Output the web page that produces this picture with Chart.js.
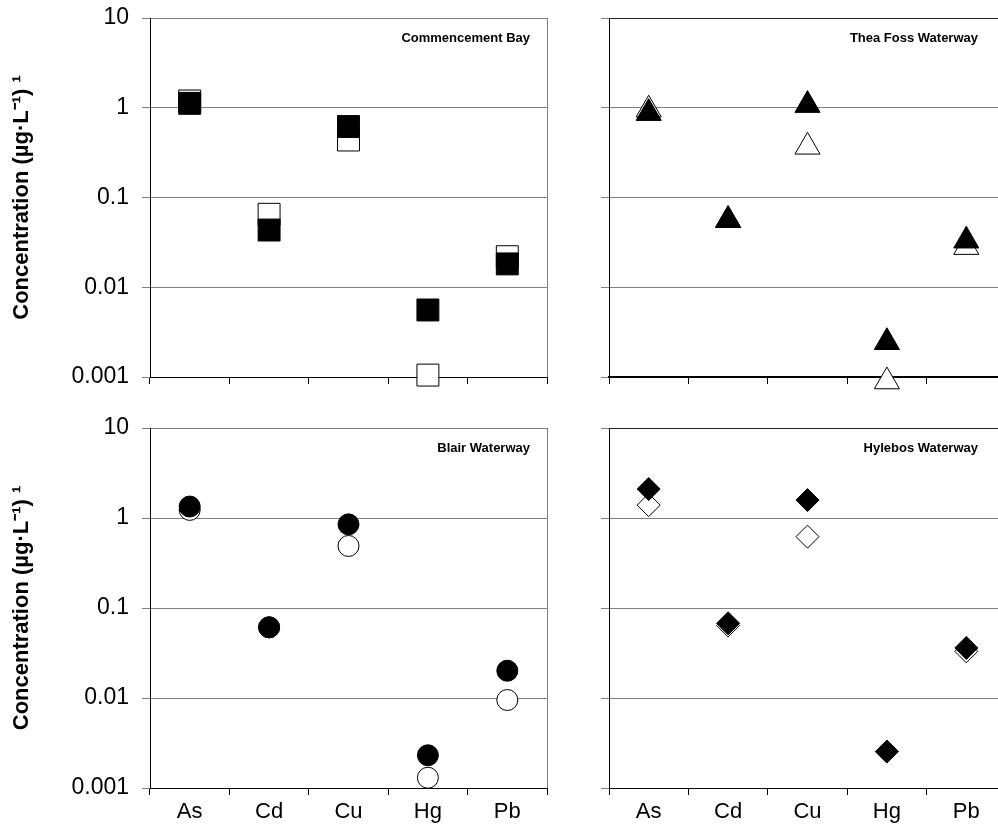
<!DOCTYPE html>
<html>
<head>
<meta charset="utf-8">
<script src="https://cdn.jsdelivr.net/npm/chart.js@4/dist/chart.umd.min.js"></script>
<style>
    html, body { margin: 0; padding: 0; background: #fff; overflow: hidden; width: 998px; height: 839px; }
    canvas { position: absolute; }
</style>
</head>
<body>
<canvas id="commencement" width="560" height="400" style="left:0;top:0"></canvas>
<canvas id="theaFoss" width="460" height="400" style="left:560px;top:0"></canvas>
<canvas id="blair" width="560" height="439" style="left:0;top:400px"></canvas>
<canvas id="hylebos" width="460" height="439" style="left:560px;top:400px"></canvas>
<script>
// Categories and axis ticks
const metals = ["As", "Cd", "Cu", "Hg", "Pb"];
const yTicks = [0.001, 0.01, 0.1, 1, 10];

// Concentrations (open / filled markers)
const commencementOpen = [1.19, 0.065, 0.437, 0.00105, 0.0219];
const commencementFilled = [1.12, 0.0434, 0.618, 0.00558, 0.0182];
const theaFossOpen = [0.95, 0.056, 0.367, 0.00089, 0.028];
const theaFossFilled = [0.87, 0.0558, 1.07, 0.00244, 0.033];
const blairOpen = [1.23, 0.061, 0.489, 0.0013, 0.0095];
const blairFilled = [1.34, 0.061, 0.85, 0.00231, 0.0201];
const hylebosOpen = [1.39, 0.064, 0.62, 0.00254, 0.033];
const hylebosFilled = [2.1, 0.0676, 1.58, 0.00254, 0.036];

const yTitle = "Concentration (µg·L⁻¹) ¹";
const fontFamily = "'Liberation Sans', Arial, sans-serif";

// Panel name in the top right corner, plus borders
const panelDecor = {
    id: "panelDecor",
    afterDraw(chart, args, opts) {
        const { ctx, chartArea } = chart;
        ctx.save();
        ctx.lineWidth = 1;
        if (opts.rightBorder) {
            ctx.strokeStyle = "#808080";
            ctx.beginPath();
            ctx.moveTo(chartArea.right + 0.5, chartArea.top);
            ctx.lineTo(chartArea.right + 0.5, chartArea.bottom);
            ctx.stroke();
        } else {
            // top border and its tick on the right panels
            ctx.strokeStyle = "#808080";
            ctx.beginPath();
            ctx.moveTo(chartArea.left - 8, chartArea.top + 0.5);
            ctx.lineTo(chartArea.left, chartArea.top + 0.5);
            ctx.stroke();
            ctx.strokeStyle = "#222";
            ctx.beginPath();
            ctx.moveTo(chartArea.left, chartArea.top + 0.5);
            ctx.lineTo(chartArea.right, chartArea.top + 0.5);
            ctx.stroke();
        }
        ctx.fillStyle = "#000";
        ctx.font = "bold 13px " + fontFamily;
        ctx.textAlign = "right";
        ctx.textBaseline = "middle";
        ctx.fillText(opts.text, opts.textRight, chartArea.top + 20);
        ctx.restore();
    }
};

// Function to build one panel
function makePanel(id, name, open, filled, shape, radius, cfg) {
    const ctx = document.getElementById(id).getContext("2d");
    return new Chart(ctx, {
        type: "line",
        data: {
            labels: metals,
            datasets: [
                {
                    label: "filled",
                    data: filled,
                    showLine: false,
                    pointStyle: shape,
                    pointRadius: radius,
                    pointBackgroundColor: "#000",
                    pointBorderColor: "#000",
                    pointBorderWidth: 1,
                    clip: false,
                },
                {
                    label: "open",
                    data: open,
                    showLine: false,
                    pointStyle: shape,
                    pointRadius: radius,
                    pointBackgroundColor: "#fff",
                    pointBorderColor: "#000",
                    pointBorderWidth: 1,
                    clip: false,
                },
            ],
        },
        options: {
            responsive: false,
            animation: false,
            events: [],
            layout: { autoPadding: false, padding: { left: 0, top: cfg.padTop, right: cfg.padRight, bottom: 0 } },
            plugins: {
                legend: { display: false },
                tooltip: { enabled: false },
                panelDecor: { text: name, textRight: cfg.textRight, rightBorder: cfg.rightBorder },
            },
            scales: {
                x: {
                    type: "category",
                    offset: true,
                    grid: { offset: true, drawOnChartArea: false, tickLength: 7, tickColor: "#000" },
                    border: { color: "#000", width: cfg.xBorder },
                    ticks: {
                        display: cfg.showX,
                        color: "#000",
                        font: { family: fontFamily, size: 22 },
                        padding: 4,
                    },
                    afterFit: (s) => {
                        s.height = cfg.xHeight;
                        s.paddingLeft = 0;
                        s.paddingRight = 0;
                    },
                },
                y: {
                    type: "logarithmic",
                    min: 0.001,
                    max: 10,
                    afterBuildTicks: (s) => { s.ticks = yTicks.map((v) => ({ value: v })); },
                    afterFit: (s) => {
                        s.width = cfg.yWidth;
                        s.paddingTop = 0;
                        s.paddingBottom = 0;
                    },
                    grid: { color: "#808080", tickLength: 8, tickColor: "#808080" },
                    border: { color: "#000" },
                    ticks: {
                        display: cfg.showY,
                        color: "#000",
                        font: { family: fontFamily, size: 23 },
                        padding: 13,
                        callback: (v) => String(v),
                    },
                    title: {
                        display: cfg.showY,
                        text: yTitle,
                        color: "#000",
                        font: { family: fontFamily, size: 22, weight: "bold" },
                        padding: { top: 9, bottom: 0 },
                    },
                },
            },
        },
        plugins: [panelDecor],
    });
}

makePanel("commencement", "Commencement Bay", commencementOpen, commencementFilled, "rect", 15.5,
    { padTop: 18, padRight: 13, yWidth: 150, xHeight: 23, showY: true, showX: false, textRight: 530, rightBorder: true, xBorder: 1 });
makePanel("theaFoss", "Thea Foss Waterway", theaFossOpen, theaFossFilled, "triangle", 14.5,
    { padTop: 18, padRight: 14, yWidth: 49, xHeight: 23, showY: false, showX: false, textRight: 418, rightBorder: false, xBorder: 2 });
makePanel("blair", "Blair Waterway", blairOpen, blairFilled, "circle", 10.5,
    { padTop: 28, padRight: 13, yWidth: 150, xHeight: 51, showY: true, showX: true, textRight: 530, rightBorder: true, xBorder: 1 });
makePanel("hylebos", "Hylebos Waterway", hylebosOpen, hylebosFilled, "rectRot", 11.5,
    { padTop: 28, padRight: 14, yWidth: 49, xHeight: 51, showY: false, showX: true, textRight: 418, rightBorder: false, xBorder: 1 });
</script>
</body>
</html>
